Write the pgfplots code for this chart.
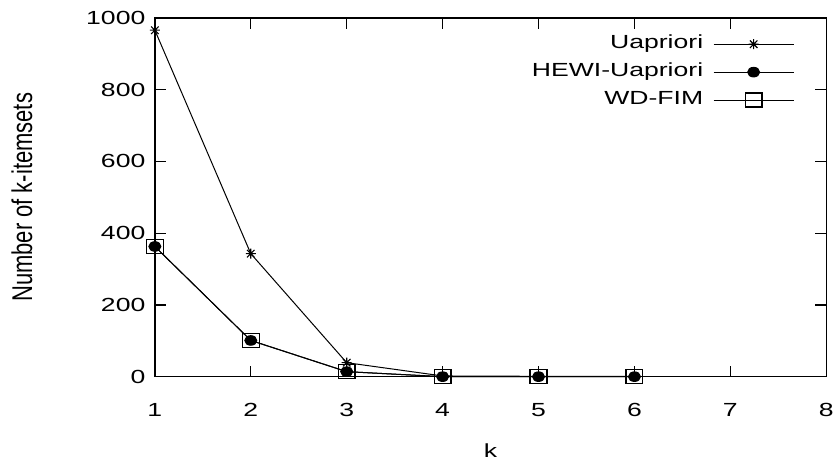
\documentclass[border=0pt]{standalone}
\usepackage{pgfplots}
\pgfplotsset{compat=1.18}
\usepackage{fontspec}
\usepackage{graphicx}
\setmainfont{Liberation Sans}[FakeStretch=1.4]
\newfontfamily\ylabelfont{Liberation Sans}

% gnuplot-style star: a plus and a cross on top of each other
\pgfdeclareplotmark{gstar}{%
  \pgfpathmoveto{\pgfqpoint{0pt}{\pgfplotmarksize}}%
  \pgfpathlineto{\pgfqpoint{0pt}{-\pgfplotmarksize}}%
  \pgfpathmoveto{\pgfqpoint{\pgfplotmarksize}{0pt}}%
  \pgfpathlineto{\pgfqpoint{-\pgfplotmarksize}{0pt}}%
  \pgfpathmoveto{\pgfqpoint{.75\pgfplotmarksize}{.75\pgfplotmarksize}}%
  \pgfpathlineto{\pgfqpoint{-.75\pgfplotmarksize}{-.75\pgfplotmarksize}}%
  \pgfpathmoveto{\pgfqpoint{.75\pgfplotmarksize}{-.75\pgfplotmarksize}}%
  \pgfpathlineto{\pgfqpoint{-.75\pgfplotmarksize}{.75\pgfplotmarksize}}%
  \pgfusepathqstroke}

\begin{document}
\fontsize{19}{22}\selectfont
\begin{tikzpicture}
\begin{axis}[
  scale only axis,
  width=672pt, height=359pt,
  xmin=1, xmax=8, ymin=0, ymax=1000,
  xtick={1,...,8},
  ytick={0,200,...,1000},
  tick align=inside,
  major tick length=11pt,
  axis line style={line width=1.4pt},
  every tick/.style={black, line width=1.2pt},
  /pgf/number format/assume math mode=true,
  /pgf/number format/1000 sep={},
  xticklabel style={yshift=-20pt},
  yticklabel style={xshift=-3pt},
  xlabel={k},
  ylabel={\ylabelfont\fontsize{22}{24}\selectfont\scalebox{1}[1.3]{Number of k-itemsets}},
  xlabel style={at={(rel axis cs:0.5,0)}, anchor=base, yshift=-81pt},
  ylabel style={at={(rel axis cs:0,0.5)}, anchor=center, rotate=0,
    yshift=133pt},
  legend plot pos=right,
  legend cell align=right,
  legend style={at={(rel axis cs:1,1)}, anchor=north east,
    xshift=-32pt, yshift=-12pt,
    draw=none, fill=none, inner sep=0pt, row sep=0pt,
    column sep=10pt,
    nodes={text height=18.5pt, text depth=9.5pt, inner sep=0pt},
    font=\fontsize{19}{22}\selectfont},
  legend image code/.code={%
    \draw[mark repeat=2,mark phase=2]
      plot coordinates {(0pt,0pt) (40pt,0pt) (80pt,0pt)};},
  clip=false,
]
\addplot[black, line width=1pt, mark=gstar,
  mark options={line width=1.1pt}, mark size=5pt]
  coordinates {(1,966) (2,343) (3,39) (4,2) (5,1) (6,1)};
\addlegendentry{Uapriori}
\addplot[black, line width=1pt, mark=*, mark size=4.8pt,
  mark options={xscale=1.25}]
  coordinates {(1,363) (2,101) (3,14) (4,0) (5,0) (6,0)};
\addlegendentry{HEWI-Uapriori}
\addplot[black, line width=1pt, mark=square,
  mark options={line width=1.3pt, xscale=1.2}, mark size=7pt]
  coordinates {(1,363) (2,101) (3,14) (4,0) (5,0) (6,0)};
\addlegendentry{WD-FIM}
% fixes the page margins around the axis box
\path (rel axis cs:0,0) ++(-155pt,-85pt) coordinate (bbsw);
\path (rel axis cs:1,1) ++(13pt,18pt) coordinate (bbne);
\end{axis}
\useasboundingbox (bbsw) rectangle (bbne);
\end{tikzpicture}
\end{document}
